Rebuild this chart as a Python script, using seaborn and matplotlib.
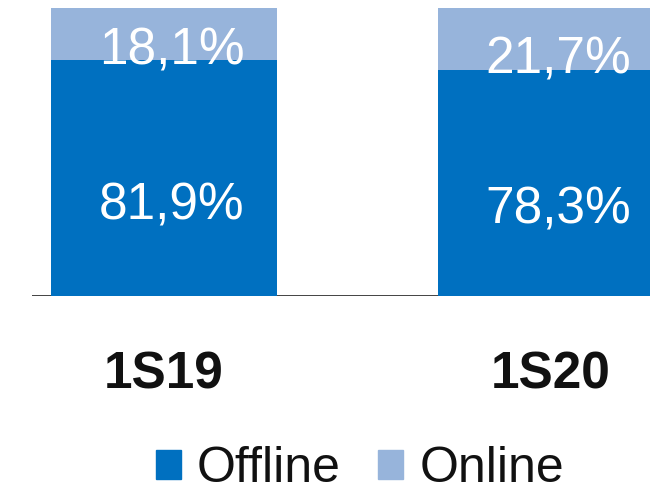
import matplotlib
matplotlib.use("Agg")
import matplotlib.pyplot as plt
from matplotlib.patches import Patch
import pandas as pd
import seaborn as sns

# ─── Data ────────────────────────────────────────────────────────────────────
periods = ["1S19", "1S20"]
offline = [81.9, 78.3]
online = [18.1, 21.7]
series_names = ["Offline", "Online"]

DARK = "#0070C0"
LIGHT = "#97B4DB"

sns.set_theme(style="white")
plt.rcParams["font.family"] = ["Liberation Sans", "DejaVu Sans"]

df = pd.DataFrame({"period": periods, "offline": offline, "online": online})
df["total"] = df["offline"] + df["online"]

fig = plt.figure(figsize=(6.5, 4.94), dpi=100)
ax = fig.add_axes([32 / 650, 198 / 494, 1 - 32 / 650, 288 / 494])

# stacked bars: total (online colour) behind, offline in front
sns.barplot(data=df, x="period", y="total", color=LIGHT, width=0.584,
            saturation=1, linewidth=0, ax=ax)
sns.barplot(data=df, x="period", y="offline", color=DARK, width=0.584,
            saturation=1, linewidth=0, ax=ax)

for i, (off, on) in enumerate(zip(offline, online)):
    ax.text(i + 0.02, off * 0.38, f"{off:.1f}%".replace(".", ","),
            ha="center", va="center", color="white", fontsize=37)
    ax.text(i + 0.02, off + on * 0.17, f"{on:.1f}%".replace(".", ","),
            ha="center", va="center", color="white", fontsize=37)

ax.set_xlim(-0.341, 1.256)
ax.set_ylim(0, 100)
ax.axhline(0, color="#222222", lw=1.2, zorder=0)
sns.despine(ax=ax, left=True, bottom=True)
ax.set_yticks([])
ax.set_xlabel("")
ax.set_ylabel("")
ax.tick_params(axis="x", length=0, pad=39)
for lbl in ax.get_xticklabels():
    lbl.set_fontsize(37)
    lbl.set_fontweight("bold")
    lbl.set_color("#111111")

handles = [Patch(color=DARK), Patch(color=LIGHT)]
fig.legend(handles, series_names, loc="center", bbox_to_anchor=(0.554, 0.05),
           ncol=2, frameon=False, fontsize=36, handlelength=0.5,
           handleheight=0.5, handletextpad=0.32, columnspacing=0.75,
           labelcolor="#111111", borderaxespad=0, borderpad=0)

fig.savefig("out.png", dpi=100)
